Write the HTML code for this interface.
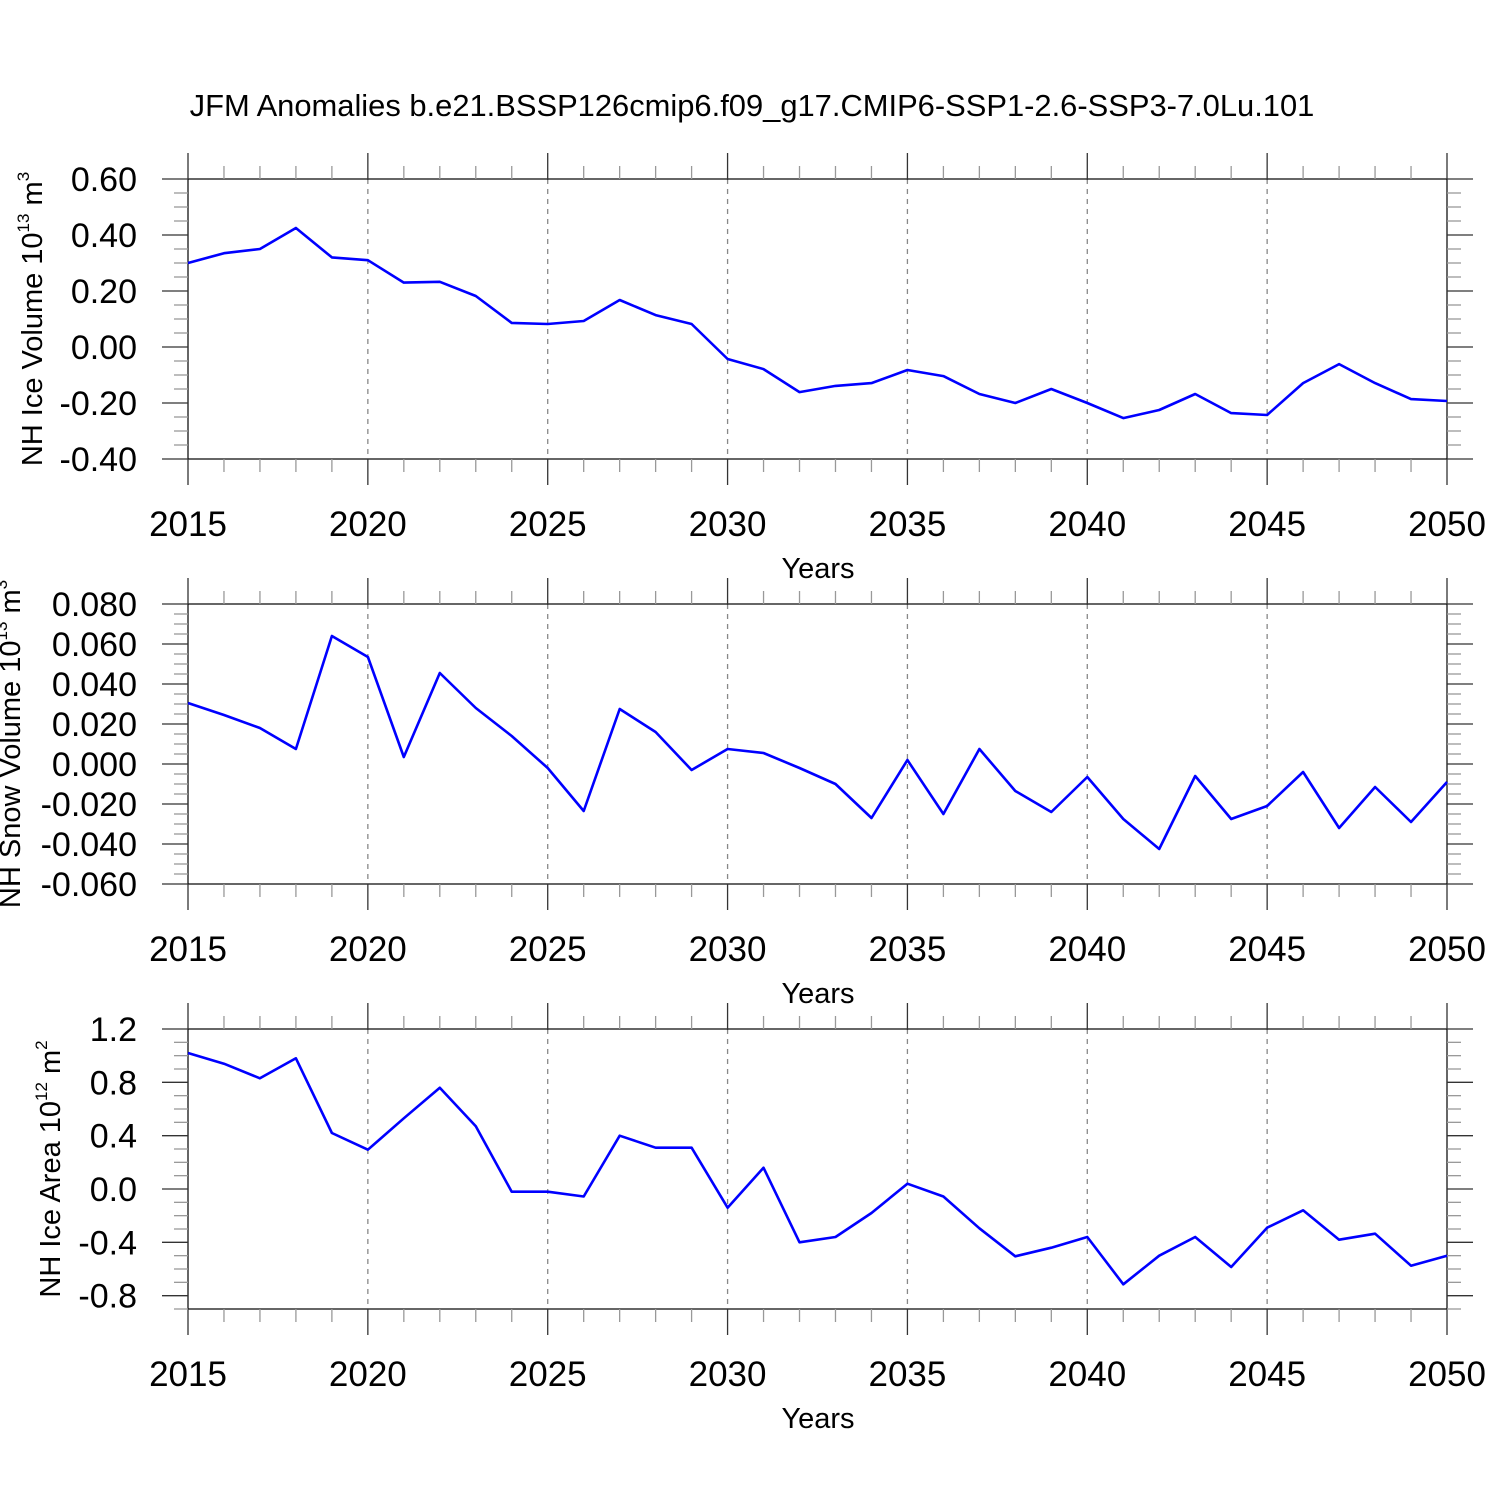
<!DOCTYPE html>
<html><head><meta charset="utf-8">
<style>
html,body{margin:0;padding:0;background:#fff;}
svg{display:block;font-family:"Liberation Sans",sans-serif;}
</style></head>
<body>
<svg id="chart" width="1500" height="1500" xmlns="http://www.w3.org/2000/svg">
<rect width="1500" height="1500" fill="#fff"/>
<text x="752" y="116" font-size="30.9" text-anchor="middle">JFM Anomalies b.e21.BSSP126cmip6.f09_g17.CMIP6-SSP1-2.6-SSP3-7.0Lu.101</text>
</svg>
<script>
const years = [];
for (let y = 2015; y <= 2050; y++) years.push(y);
const iceVolume = [0.30,0.335,0.35,0.425,0.32,0.31,0.23,0.233,0.182,0.086,0.082,0.093,0.168,0.114,0.082,-0.043,-0.079,-0.161,-0.139,-0.129,-0.082,-0.104,-0.168,-0.20,-0.15,-0.20,-0.254,-0.225,-0.168,-0.236,-0.243,-0.129,-0.061,-0.129,-0.186,-0.193];
const snowVolume = [0.0305,0.0245,0.018,0.0075,0.064,0.0535,0.0035,0.0455,0.028,0.014,-0.002,-0.0235,0.0275,0.016,-0.003,0.0075,0.0055,-0.002,-0.010,-0.027,0.002,-0.025,0.0075,-0.0135,-0.024,-0.0065,-0.0275,-0.0425,-0.006,-0.0275,-0.021,-0.004,-0.032,-0.0115,-0.029,-0.009];
const iceArea = [1.02,0.94,0.83,0.98,0.42,0.295,0.53,0.76,0.47,-0.02,-0.02,-0.056,0.40,0.31,0.31,-0.14,0.16,-0.40,-0.36,-0.18,0.04,-0.056,-0.295,-0.505,-0.44,-0.36,-0.715,-0.50,-0.36,-0.585,-0.29,-0.16,-0.38,-0.335,-0.575,-0.50];
const xTickLabels = ["2015","2020","2025","2030","2035","2040","2045","2050"];
const iceVolTicks = ["0.60","0.40","0.20","0.00","-0.20","-0.40"];
const snowTicks = ["0.080","0.060","0.040","0.020","0.000","-0.020","-0.040","-0.060"];
const areaTicks = ["1.2","0.8","0.4","0.0","-0.4","-0.8"];

const svg = document.getElementById('chart');
const NS = 'http://www.w3.org/2000/svg';
function mk(tag, attrs, parent){
  const e = document.createElementNS(NS, tag);
  for (const k in attrs) e.setAttribute(k, attrs[k]);
  (parent||svg).appendChild(e);
  return e;
}
const X0 = 188, X1 = 1447;
function xs(yr){ return X0 + (yr - 2015) / 35 * (X1 - X0); }

function panel(name, top, ymin, ymax, major, minor, ticks, data, titleMain, titleExp, titleUnit, unitExp){
  const bot = top + 280;
  const g = mk('g', {});
  
  
  const ys = v => bot - (v - ymin) / (ymax - ymin) * 280;
  for (let yr = 2020; yr <= 2045; yr += 5) {
    const l = mk('line', {x1:xs(yr), x2:xs(yr), y1:top, y2:bot, stroke:'#888', 'stroke-width':1.3, 'stroke-dasharray':'5,5'}, g);
    
    
  }
  const box = mk('rect', {x:X0, y:top, width:X1-X0, height:280, fill:'none', stroke:'#000', 'stroke-width':1.2}, g);
  
  
  for (let yr = 2015; yr <= 2050; yr++) {
    const len = yr % 5 === 0 ? 26 : 13;
    const col = yr % 5 === 0 ? '#333' : '#999';
    mk('line', {x1:xs(yr), x2:xs(yr), y1:top, y2:top-len, stroke:col, 'stroke-width':1.3}, g);
    mk('line', {x1:xs(yr), x2:xs(yr), y1:bot, y2:bot+len, stroke:col, 'stroke-width':1.3}, g);
  }
  xTickLabels.forEach(lbl => {
    const t = mk('text', {x:xs(+lbl), y:bot+77, 'font-size':35, 'text-anchor':'middle'}, g);
    
    
    t.textContent = lbl;
  });
  const xt = mk('text', {x:818, y:bot+119, 'font-size':29, 'text-anchor':'middle'}, g);
  
  
  xt.textContent = 'Years';
  const n = Math.round((ymax - ymin) / minor);
  for (let i = 0; i <= n; i++) {
    const v = ymin + i * minor;
    const isMaj = Math.abs(v / major - Math.round(v / major)) < 1e-6;
    const len = isMaj ? 26 : 14;
    const col = isMaj ? '#333' : '#999';
    const y = ys(v);
    mk('line', {x1:X0, x2:X0-len, y1:y, y2:y, stroke:col, 'stroke-width':1.3}, g);
    mk('line', {x1:X1, x2:X1+len, y1:y, y2:y, stroke:col, 'stroke-width':1.3}, g);
  }
  ticks.forEach(lbl => {
    const t = mk('text', {x:137, y:ys(parseFloat(lbl))+12, 'font-size':34, 'text-anchor':'end'}, g);
    
    
    t.textContent = lbl;
  });
  const cy = top + 140;
  const yt = mk('text', {x:0, y:0, 'font-size':29, 'text-anchor':'middle', transform:`translate(${titleX[name]},${cy}) rotate(-90)`}, g);
  
  
  yt.innerHTML = `${titleMain} 10<tspan font-size="17" dy="-13">${titleExp}</tspan><tspan dy="13"> ${titleUnit}</tspan><tspan font-size="17" dy="-13">${unitExp}</tspan>`;
  const pts = data.map((v, i) => xs(years[i]).toFixed(1) + ',' + ys(v).toFixed(1)).join(' ');
  const pl = mk('polyline', {points:pts, fill:'none', stroke:'#0000ff', 'stroke-width':2.6, 'stroke-linejoin':'round'}, g);
  
  
}
const titleX = {'ice-volume-panel':42, 'snow-volume-panel':20, 'ice-area-panel':60};
panel('ice-volume-panel', 179, -0.4, 0.6, 0.2, 0.05, iceVolTicks, iceVolume, 'NH Ice Volume', '13', 'm', '3');
panel('snow-volume-panel', 604, -0.06, 0.08, 0.02, 0.005, snowTicks, snowVolume, 'NH Snow Volume', '13', 'm', '3');
panel('ice-area-panel', 1029, -0.9, 1.2, 0.4, 0.1, areaTicks, iceArea, 'NH Ice Area', '12', 'm', '2');
</script>
</body></html>
